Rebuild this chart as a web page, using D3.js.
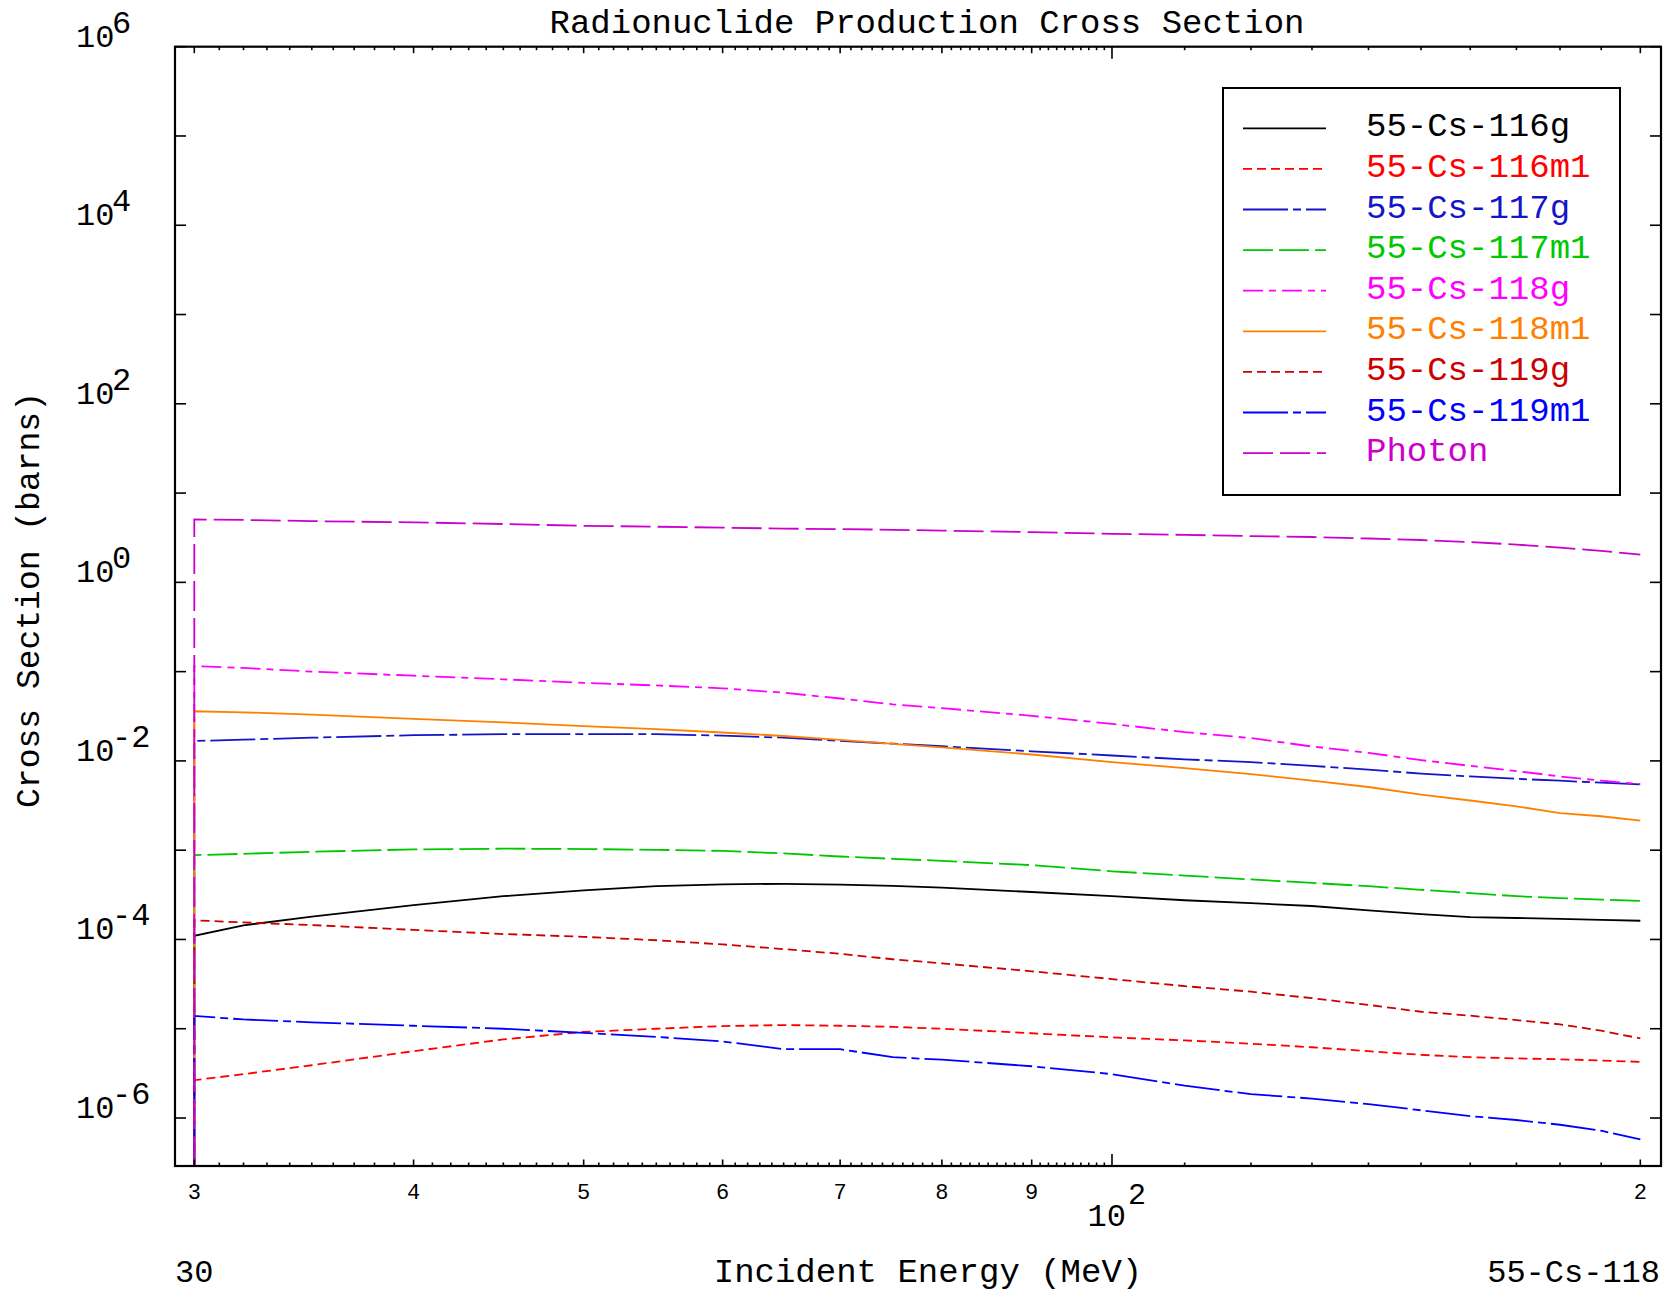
<!DOCTYPE html>
<html>
<head>
<meta charset="utf-8">
<script src="https://cdn.jsdelivr.net/npm/d3@7"></script>
<style>
  body { margin: 0; background: #fff; }
  svg text { font-family: "Liberation Mono", "DejaVu Sans Mono", monospace; }
</style>
</head>
<body>
<svg id="chart"></svg>
<script>
// energies (MeV) the curves are read at
const energies = [30, 32, 35, 40, 45, 50, 55, 60, 65, 70, 75, 80, 90, 100, 110, 120, 130, 140, 150, 160, 170, 180, 190, 200];

// cross sections (barns), one list per product
const cs116g  = [1.1e-4, 1.44e-4, 1.8e-4, 2.42e-4, 3.05e-4, 3.55e-4, 3.95e-4, 4.15e-4, 4.2e-4, 4.12e-4, 3.98e-4, 3.8e-4, 3.4e-4, 3.05e-4, 2.75e-4, 2.55e-4, 2.37e-4, 2.12e-4, 1.92e-4, 1.78e-4, 1.74e-4, 1.7e-4, 1.66e-4, 1.62e-4];
const cs116m1 = [2.65e-6, 3.1e-6, 3.9e-6, 5.6e-6, 7.6e-6, 9.2e-6, 1.0e-5, 1.07e-5, 1.1e-5, 1.08e-5, 1.05e-5, 1.0e-5, 8.9e-6, 8.0e-6, 7.4e-6, 6.8e-6, 6.2e-6, 5.6e-6, 5.1e-6, 4.8e-6, 4.65e-6, 4.55e-6, 4.4e-6, 4.26e-6];
const cs117g  = [0.0167, 0.0173, 0.0182, 0.0194, 0.0199, 0.02, 0.0199, 0.0192, 0.0182, 0.0168, 0.0156, 0.0146, 0.0128, 0.0115, 0.0104, 0.0097, 0.0088, 0.008, 0.0072, 0.0067, 0.0063, 0.006, 0.0057, 0.00545];
const cs117m1 = [8.8e-4, 9.1e-4, 9.6e-4, 1.02e-3, 1.04e-3, 1.03e-3, 1.01e-3, 9.8e-4, 9.2e-4, 8.5e-4, 8.0e-4, 7.6e-4, 6.8e-4, 5.8e-4, 5.2e-4, 4.7e-4, 4.3e-4, 3.95e-4, 3.6e-4, 3.3e-4, 3.05e-4, 2.9e-4, 2.8e-4, 2.7e-4];
const cs118g  = [0.115, 0.11, 0.1, 0.09, 0.082, 0.075, 0.07, 0.065, 0.058, 0.05, 0.043, 0.039, 0.032, 0.026, 0.021, 0.018, 0.0145, 0.0123, 0.0102, 0.0088, 0.0077, 0.0067, 0.006, 0.0055];
const cs118m1 = [0.036, 0.035, 0.033, 0.0296, 0.027, 0.0245, 0.0227, 0.0208, 0.019, 0.0172, 0.0155, 0.0142, 0.0118, 0.0097, 0.0083, 0.0071, 0.006, 0.0051, 0.0042, 0.0036, 0.0031, 0.0026, 0.0024, 0.00214];
const cs119g  = [1.64e-4, 1.55e-4, 1.45e-4, 1.28e-4, 1.15e-4, 1.07e-4, 9.8e-5, 8.8e-5, 7.8e-5, 6.9e-5, 6.0e-5, 5.4e-5, 4.4e-5, 3.6e-5, 3.0e-5, 2.6e-5, 2.2e-5, 1.85e-5, 1.55e-5, 1.4e-5, 1.25e-5, 1.12e-5, 9.5e-6, 7.8e-6];
const cs119m1 = [1.39e-5, 1.27e-5, 1.18e-5, 1.08e-5, 1.0e-5, 9.0e-6, 8.1e-6, 7.2e-6, 5.9e-6, 5.9e-6, 4.8e-6, 4.5e-6, 3.8e-6, 3.1e-6, 2.3e-6, 1.85e-6, 1.65e-6, 1.43e-6, 1.22e-6, 1.05e-6, 9.5e-7, 8.4e-7, 7.2e-7, 5.75e-7];
const csPhoton = [5.07, 5.0, 4.85, 4.7, 4.5, 4.3, 4.2, 4.1, 4.0, 3.95, 3.88, 3.8, 3.65, 3.5, 3.4, 3.3, 3.22, 3.1, 2.98, 2.83, 2.65, 2.45, 2.25, 2.04];

const seriesNames = ["55-Cs-116g", "55-Cs-116m1", "55-Cs-117g", "55-Cs-117m1", "55-Cs-118g", "55-Cs-118m1", "55-Cs-119g", "55-Cs-119m1", "Photon"];
const seriesValues = [cs116g, cs116m1, cs117g, cs117m1, cs118g, cs118m1, cs119g, cs119m1, csPhoton];
const seriesColors = ["#000000", "#ff0000", "#1414c8", "#00c800", "#ff00ff", "#ff8000", "#cc0000", "#0000ff", "#cc00cc"];
const seriesDashes = ["none", "9,5", "45,5,8,5", "30,6", "20,6,7,6", "none", "9,5", "45,5,8,5", "30,7"];

const yLabelExps = [6, 4, 2, 0, -2, -4, -6];
const xTickLabels = [[30, "3"], [40, "4"], [50, "5"], [60, "6"], [70, "7"], [80, "8"], [90, "9"], [200, "2"]];

const width = 1665, height = 1299;
const plot = {left: 175, right: 1661, top: 46.7, bottom: 1166};

const svg = d3.select("#chart")
    .attr("width", width)
    .attr("height", height);

const x = d3.scaleLog().domain([29.25, 205.5]).range([plot.left, plot.right]);
const y = d3.scaleLog().domain([2.9e-7, 1e6]).range([plot.bottom, plot.top]);

svg.append("clipPath").attr("id", "clip")
    .append("rect")
    .attr("x", plot.left).attr("y", plot.top)
    .attr("width", plot.right - plot.left)
    .attr("height", plot.bottom - plot.top);

// curves (each one rises from the axis floor at threshold)
const line = d3.line()
    .x(function (d) { return x(d[0]); })
    .y(function (d) { return y(d[1]); });

const curves = svg.append("g").attr("clip-path", "url(#clip)");
seriesValues.forEach(function (vals, i) {
    const pts = [[energies[0], y.domain()[0]]].concat(energies.map(function (e, j) { return [e, vals[j]]; }));
    curves.append("path")
        .datum(pts)
        .attr("d", line)
        .attr("fill", "none")
        .attr("stroke", seriesColors[i])
        .attr("stroke-width", 1.8)
        .attr("stroke-dasharray", seriesDashes[i]);
});

// frame
svg.append("rect")
    .attr("x", plot.left).attr("y", plot.top)
    .attr("width", plot.right - plot.left)
    .attr("height", plot.bottom - plot.top)
    .attr("fill", "none")
    .attr("stroke", "#000")
    .attr("stroke-width", 2.2);

// x ticks, top and bottom
const xTicks = [];
for (let e = 31; e < 100; e++) xTicks.push([e, e % 10 === 0 ? 6.5 : 3.5]);
xTicks.push([30, 6.5], [100, 12], [200, 6.5]);
for (let e = 110; e < 200; e += 10) xTicks.push([e, 3.5]);

const tickG = svg.append("g").attr("stroke", "#000").attr("stroke-width", 1.6);
xTicks.forEach(function (t) {
    tickG.append("line")
        .attr("x1", x(t[0])).attr("x2", x(t[0]))
        .attr("y1", plot.bottom).attr("y2", plot.bottom - t[1]);
    tickG.append("line")
        .attr("x1", x(t[0])).attr("x2", x(t[0]))
        .attr("y1", plot.top).attr("y2", plot.top + t[1]);
});

// y ticks, left and right
d3.range(-6, 7).forEach(function (p) {
    const yy = y(Math.pow(10, p));
    tickG.append("line").attr("x1", plot.left).attr("x2", plot.left + 11).attr("y1", yy).attr("y2", yy);
    tickG.append("line").attr("x1", plot.right).attr("x2", plot.right - 11).attr("y1", yy).attr("y2", yy);
});

// y labels
yLabelExps.forEach(function (p) {
    const yy = y(Math.pow(10, p));
    svg.append("text").attr("x", 76).attr("y", yy).style("font-size", "32px").text("10");
    svg.append("text").attr("x", 112).attr("y", yy - 14).style("font-size", "32px").text(p);
});

// x labels
xTickLabels.forEach(function (t) {
    svg.append("text")
        .attr("x", x(t[0])).attr("y", 1199)
        .attr("text-anchor", "middle")
        .style("font-size", "22px")
        .text(t[1]);
});
svg.append("text").attr("x", x(100) + 14).attr("y", 1226).attr("text-anchor", "end").style("font-size", "32px").text("10");
svg.append("text").attr("x", x(100) + 16).attr("y", 1204).style("font-size", "30px").text("2");

// titles
svg.append("text")
    .attr("x", 927).attr("y", 33)
    .attr("text-anchor", "middle")
    .style("font-size", "34px")
    .text("Radionuclide Production Cross Section");

svg.append("text")
    .attr("x", 928).attr("y", 1282)
    .attr("text-anchor", "middle")
    .style("font-size", "34px")
    .text("Incident Energy (MeV)");

svg.append("text")
    .attr("x", 175).attr("y", 1282)
    .style("font-size", "32px")
    .text("30");

svg.append("text")
    .attr("x", 1660).attr("y", 1282)
    .attr("text-anchor", "end")
    .style("font-size", "32px")
    .text("55-Cs-118");

svg.append("text")
    .attr("transform", "translate(39, 600) rotate(-90)")
    .attr("text-anchor", "middle")
    .style("font-size", "33px")
    .text("Cross Section (barns)");

// legend
const legend = svg.append("g");
legend.append("rect")
    .attr("x", 1223).attr("y", 88)
    .attr("width", 397).attr("height", 407)
    .attr("fill", "#fff")
    .attr("stroke", "#000")
    .attr("stroke-width", 2);

seriesNames.forEach(function (name, i) {
    const ly = 128.3 + 40.6 * i;
    legend.append("line")
        .attr("x1", 1243).attr("x2", 1326)
        .attr("y1", ly).attr("y2", ly)
        .attr("stroke", seriesColors[i])
        .attr("stroke-width", 1.8)
        .attr("stroke-dasharray", seriesDashes[i]);
    legend.append("text")
        .attr("x", 1366).attr("y", ly + 8)
        .attr("fill", seriesColors[i])
        .style("font-size", "34px")
        .text(name);
});
</script>
</body>
</html>
